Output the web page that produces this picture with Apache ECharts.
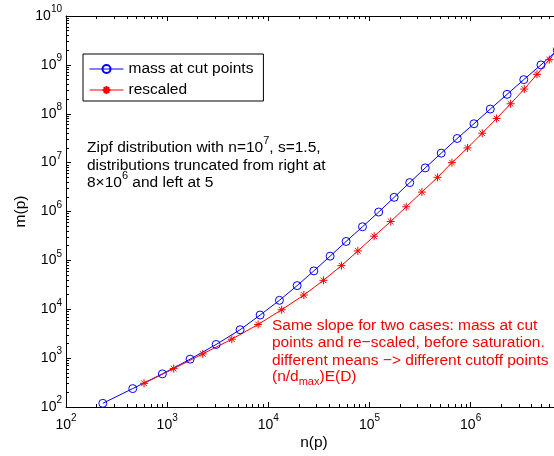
<!DOCTYPE html>
<html>
<head>
<meta charset="utf-8">
<script src="https://cdn.jsdelivr.net/npm/echarts@6/dist/echarts.min.js"></script>
<style>
html, body { margin: 0; padding: 0; background: #fff; }
#chart { width: 554px; height: 456px; }
</style>
</head>
<body>
<div id="chart"></div>
<script>
// mass at cut points (blue circles)
const massN = [231, 457, 897, 1686, 3050, 5260, 8300, 12880, 19270, 28180, 40840, 58750, 85300,
  123300, 175400, 249900, 355700, 511700, 736500, 1078000, 1563000, 2291000, 3350000, 4955000, 7190000];
const massM = [119, 238, 476, 952, 1904, 3808, 7616, 15230, 30460, 60930, 121900, 243700, 487400,
  974800, 1950000, 3900000, 7800000, 15600000, 31200000, 62400000, 124800000, 249600000, 499000000,
  998000000, 2000000000];

// rescaled (red stars)
const rescN = [591, 1161, 2249, 4354, 7925, 13540, 22450, 35080, 52840, 76760, 111200, 162100,
  230700, 329800, 470800, 653400, 931500, 1302000, 1804000, 2481000, 3390000, 4528000, 5993000, 7870000];
const rescM = [305, 610, 1220, 2440, 4880, 9760, 19520, 39040, 78080, 156200, 312300, 624600,
  1249000, 2498000, 4997000, 9990000, 20000000, 40000000, 80000000, 160000000, 320000000, 640000000,
  1280000000, 2560000000];

// axis ticks (decades)
const xTicks = [1e2, 1e3, 1e4, 1e5, 1e6];
const yTicks = [1e2, 1e3, 1e4, 1e5, 1e6, 1e7, 1e8, 1e9, 1e10];
const xMin = 1e2, xMax = 8e6;
const yMin = 1e2, yMax = 1e10;

const font = 'Liberation Sans';
const txtSize = 15.5; // annotation / legend text

// minor ticks 2..9 of every decade
function minorTicks(lo, hi) {
  const out = [];
  for (let d = lo; d < hi; d *= 10) {
    for (let k = 2; k <= 9; k++) {
      if (k * d <= hi) out.push(k * d);
    }
  }
  return out;
}
const xMinor = minorTicks(xMin, xMax);
const yMinor = minorTicks(yMin, yMax);

// 10^n labels
const powRich = {
  b: { fontSize: 14, fontFamily: font, color: '#000', lineHeight: 24 },
  sup: { fontSize: 10, fontFamily: font, color: '#000', lineHeight: 10, padding: [0, 0, 13, 0] }
};
function powLabel(v) {
  return '{b|10}{sup|' + Math.round(Math.log10(v)) + '}';
}

// rich styles for the text notes
function noteRich(col) {
  return {
    b: { fontSize: txtSize, fontFamily: font, fill: col, lineHeight: 26 },
    sup: { fontSize: 11, fontFamily: font, fill: col, lineHeight: 11, padding: [0, 0, 14, 0] },
    sub: { fontSize: 11, fontFamily: font, fill: col, lineHeight: 11, padding: [10, 0, 0, 0] }
  };
}
function note(x, y, text, col) {
  return {
    type: 'text', x: x, y: y, silent: true,
    style: { text: text, rich: noteRich(col), verticalAlign: 'middle', align: 'left' }
  };
}

const black = { color: '#000', width: 1 };

function logAxis(min, max, extra) {
  return Object.assign({
    type: 'log',
    logBase: 10,
    min: min,
    max: max,
    splitLine: { show: false },
    minorTick: { show: false },
    minorSplitLine: { show: false },
    axisLine: { show: false, onZero: false, lineStyle: black },
    axisLabel: { show: false },
    silent: true
  }, extra);
}

function majorTick(vals) {
  return { show: true, inside: true, length: 5, customValues: vals, lineStyle: black };
}
function minorTick(vals) {
  return { show: true, inside: true, length: 3, customValues: vals, lineStyle: black };
}

// Matlab '*' marker
const starPath = 'path://M0,-5L0,5M-5,0L5,0M-3.5,-3.5L3.5,3.5M-3.5,3.5L3.5,-3.5';

const chart = echarts.init(document.getElementById('chart'), null, { renderer: 'canvas' });

chart.setOption({
  animation: false,
  backgroundColor: '#fff',
  textStyle: { fontFamily: font },
  grid: {
    left: 66,
    top: 16,
    width: 496,
    height: 391,
    containLabel: false,
    outerBoundsMode: 'none'
  },
  legend: {
    data: ['mass at cut points', 'rescaled'],
    orient: 'vertical',
    left: 83,
    top: 54,
    padding: [7, 10, 3, 6],
    itemWidth: 34,
    itemHeight: 10,
    itemGap: 5,
    borderColor: '#000',
    borderWidth: 1,
    backgroundColor: '#fff',
    lineStyle: { width: 1 },
    textStyle: { fontSize: txtSize, fontFamily: font, color: '#000' }
  },
  xAxis: [
    logAxis(xMin, xMax, {
      position: 'bottom',
      axisLine: { show: true, onZero: false, lineStyle: black },
      axisTick: majorTick(xTicks),
      axisLabel: {
        show: true, customValues: xTicks, formatter: powLabel, rich: powRich, margin: 6
      },
      name: 'n(p)',
      nameLocation: 'middle',
      nameGap: 28,
      nameMoveOverlap: false,
      nameTextStyle: { fontSize: 15.5, fontFamily: font, color: '#000' }
    }),
    logAxis(xMin, xMax, { position: 'bottom', axisTick: minorTick(xMinor) }),
    logAxis(xMin, xMax, {
      position: 'top',
      axisLine: { show: true, onZero: false, lineStyle: black },
      axisTick: majorTick(xTicks)
    }),
    logAxis(xMin, xMax, { position: 'top', axisTick: minorTick(xMinor) })
  ],
  yAxis: [
    logAxis(yMin, yMax, {
      position: 'left',
      axisLine: { show: true, onZero: false, lineStyle: black },
      axisTick: majorTick(yTicks),
      axisLabel: {
        show: true, customValues: yTicks, formatter: powLabel, rich: powRich, margin: 4
      },
      name: 'm(p)',
      nameLocation: 'middle',
      nameRotate: 90,
      nameGap: 37,
      nameMoveOverlap: false,
      nameTextStyle: { fontSize: 15.5, fontFamily: font, color: '#000' }
    }),
    logAxis(yMin, yMax, { position: 'left', axisTick: minorTick(yMinor) })
  ],
  series: [
    {
      name: 'mass at cut points',
      type: 'line',
      xAxisIndex: 0,
      yAxisIndex: 0,
      data: massN.map((n, i) => [n, massM[i]]),
      symbol: 'circle',
      symbolSize: 8,
      showAllSymbol: true,
      itemStyle: { color: 'rgba(0,0,0,0)', borderColor: '#0000ff', borderWidth: 1 },
      lineStyle: { color: '#0000ff', width: 1 },
      emphasis: { disabled: true }
    },
    {
      name: 'rescaled',
      type: 'line',
      xAxisIndex: 0,
      yAxisIndex: 0,
      data: rescN.map((n, i) => [n, rescM[i]]),
      symbol: starPath,
      symbolSize: 8,
      showAllSymbol: true,
      itemStyle: { color: '#ff0000', borderColor: '#ff0000', borderWidth: 1 },
      lineStyle: { color: '#ff0000', width: 1 },
      emphasis: { disabled: true }
    }
  ],
  graphic: [
    note(87, 147.5, '{b|Zipf distribution with n=10}{sup|7}{b|, s=1.5,}', '#000'),
    note(87, 165.3, '{b|distributions truncated from right at}', '#000'),
    note(87, 183, '{b|8\u00d710}{sup|6}{b| and left at 5}', '#000'),
    note(272, 325.7, '{b|Same slope for two cases: mass at cut}', '#ff0000'),
    note(272, 343, '{b|points and re\u2212scaled, before saturation.}', '#ff0000'),
    note(272, 360.7, '{b|different means \u2212> different cutoff points}', '#ff0000'),
    note(272, 376.7, '{b|(n/d}{sub|max}{b|)E(D)}', '#ff0000')
  ]
});
</script>
</body>
</html>
